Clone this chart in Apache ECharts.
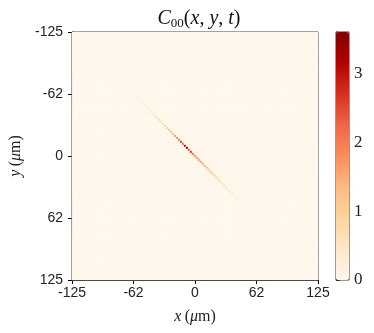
<!DOCTYPE html>
<html>
<head>
<meta charset="utf-8">
<script src="https://cdn.jsdelivr.net/npm/echarts@6/dist/echarts.min.js"></script>
<style>
html, body { margin: 0; padding: 0; background: #fff; }
#main { width: 374px; height: 333px; }
</style>
</head>
<body>
<div id="main"></div>
<script>
// grid of the map: 125 x 125 cells from -125 to 125 um
var nCells = 125;
var axisMin = -125, axisMax = 125;
var tickLabels = [-125, -62, 0, 62, 125];
var cbarTicks = [0, 1, 2, 3];
var cbarMax = 3.6;

// first diagonal cell index of the streak (x and y share the index), centre -68 um
var streakStart = 28;
// C00 along the diagonal, one value per cell (-68 ... 56 um)
var streakValues = [
    0.05, 0.07, 0.09, 0.11, 0.13, 0.16, 0.19, 0.22, 0.25, 0.28,
    0.32, 0.36, 0.42, 0.47, 0.52, 0.58, 0.65, 0.72, 0.8, 0.9,
    1.0, 1.1, 1.25, 1.4, 1.6, 1.8, 2.0, 2.6, 2.2, 3.0,
    3.6, 2.4, 2.8, 2.2, 2.0, 1.9, 1.8, 1.7, 1.6, 1.5,
    1.4, 1.3, 1.2, 1.1, 1.0, 0.92, 0.85, 0.78, 0.7, 0.64,
    0.58, 0.52, 0.46, 0.41, 0.36, 0.31, 0.27, 0.23, 0.19, 0.15,
    0.12, 0.09, 0.06
];

var orrd = ['#fff7ec', '#fee8c8', '#fdd49e', '#fdbb84', '#fc8d59',
            '#ef6548', '#d7301f', '#b30000', '#7f0000'];

var cats = [];
for (var i = 0; i < nCells; i++) cats.push(i);

var cells = [];
for (var ix = 0; ix < nCells; ix++) {
    for (var iy = 0; iy < nCells; iy++) {
        var v = 0;
        var k = ix - streakStart;
        if (ix === iy && k >= 0 && k < streakValues.length) v = streakValues[k];
        cells.push([ix, iy, v]);
    }
}

var serif = "'Liberation Serif', 'DejaVu Serif', serif";
var sans = "'Liberation Sans', Arial, sans-serif";

var chart = echarts.init(document.getElementById('main'));
var option = {
    backgroundColor: '#fff',
    animation: false,
    title: {
        text: '{i|C}{s|00}{n|(}{i|x}{n|, }{i|y}{n|, }{i|t}{n|)}',
        left: 194,
        textAlign: 'center',
        top: 3,
        textStyle: {
            fontWeight: 'normal',
            rich: {
                i: { fontFamily: serif, fontStyle: 'italic', fontWeight: 'normal', fontSize: 20, color: '#111' },
                n: { fontFamily: serif, fontWeight: 'normal', fontSize: 20, color: '#111' },
                s: { fontFamily: serif, fontWeight: 'normal', fontSize: 13, color: '#111', verticalAlign: 'bottom', padding: [9, 0, 0, 0] }
            }
        }
    },
    grid: [
        { left: 70, top: 32, width: 248, height: 248, show: true, borderColor: '#000', borderWidth: 1, backgroundColor: 'transparent' },
        { left: 336, top: 32, width: 13, height: 248, show: true, borderColor: '#333', borderWidth: 1, backgroundColor: 'transparent' }
    ],
    visualMap: {
        type: 'continuous',
        min: 0,
        max: cbarMax,
        seriesIndex: 0,
        calculable: false,
        hoverLink: false,
        orient: 'vertical',
        left: 336,
        top: 32,
        padding: 0,
        itemWidth: 13,
        itemHeight: 248,
        text: null,
        showLabel: false,
        inRange: { color: orrd }
    },
    xAxis: [
        { type: 'category', gridIndex: 0, data: cats, show: false },
        {
            type: 'value', gridIndex: 0, min: axisMin, max: axisMax, interval: 62.5,
            position: 'bottom',
            axisLine: { show: true, lineStyle: { color: '#000' } },
            axisTick: { show: true, length: 4, lineStyle: { color: '#000' } },
            splitLine: { show: false },
            axisLabel: {
                color: '#222', fontFamily: sans, fontSize: 14, margin: 6,
                formatter: function (v) { return String(Math.trunc(v) || 0); }
            },
            name: '{i|x} {n|(}{m|μ}{n|m)}',
            nameLocation: 'middle',
            nameGap: 29,
            nameTextStyle: {
                rich: {
                    i: { fontFamily: serif, fontStyle: 'italic', fontSize: 16, color: '#222' },
                    m: { fontFamily: serif, fontStyle: 'italic', fontSize: 16, color: '#222' },
                    n: { fontFamily: serif, fontSize: 16, color: '#222' }
                }
            }
        },
        { type: 'value', gridIndex: 1, min: 0, max: 1, show: false }
    ],
    yAxis: [
        { type: 'category', gridIndex: 0, data: cats, show: false, inverse: true },
        {
            type: 'value', gridIndex: 0, min: axisMin, max: axisMax, interval: 62.5,
            inverse: true, position: 'left',
            axisLine: { show: true, lineStyle: { color: '#000' } },
            axisTick: { show: true, length: 4, lineStyle: { color: '#000' } },
            splitLine: { show: false },
            axisLabel: {
                color: '#222', fontFamily: sans, fontSize: 14, margin: 9,
                formatter: function (v) { return String(Math.trunc(v) || 0); }
            },
            name: '{i|y} {n|(}{m|μ}{n|m)}',
            nameLocation: 'middle',
            nameGap: 48,
            nameRotate: 90,
            nameTextStyle: {
                rich: {
                    i: { fontFamily: serif, fontStyle: 'italic', fontSize: 16, color: '#222' },
                    m: { fontFamily: serif, fontStyle: 'italic', fontSize: 16, color: '#222' },
                    n: { fontFamily: serif, fontSize: 16, color: '#222' }
                }
            }
        },
        {
            type: 'value', gridIndex: 1, min: 0, max: cbarMax, interval: 1,
            position: 'right',
            axisLine: { show: true, lineStyle: { color: '#333' } },
            axisTick: { show: true, length: 4, lineStyle: { color: '#333' } },
            splitLine: { show: false },
            axisLabel: {
                color: '#222', fontFamily: serif, fontSize: 17, margin: 5,
                showMaxLabel: false,
                formatter: function (v) { return cbarTicks.indexOf(v) >= 0 ? String(v) : ''; }
            }
        }
    ],
    series: [
        {
            type: 'heatmap',
            xAxisIndex: 0,
            yAxisIndex: 0,
            data: cells,
            progressive: 0,
            emphasis: { disabled: true }
        }
    ]
};
chart.setOption(option);
window.onresize = function () { chart.resize(); };
</script>
</body>
</html>
